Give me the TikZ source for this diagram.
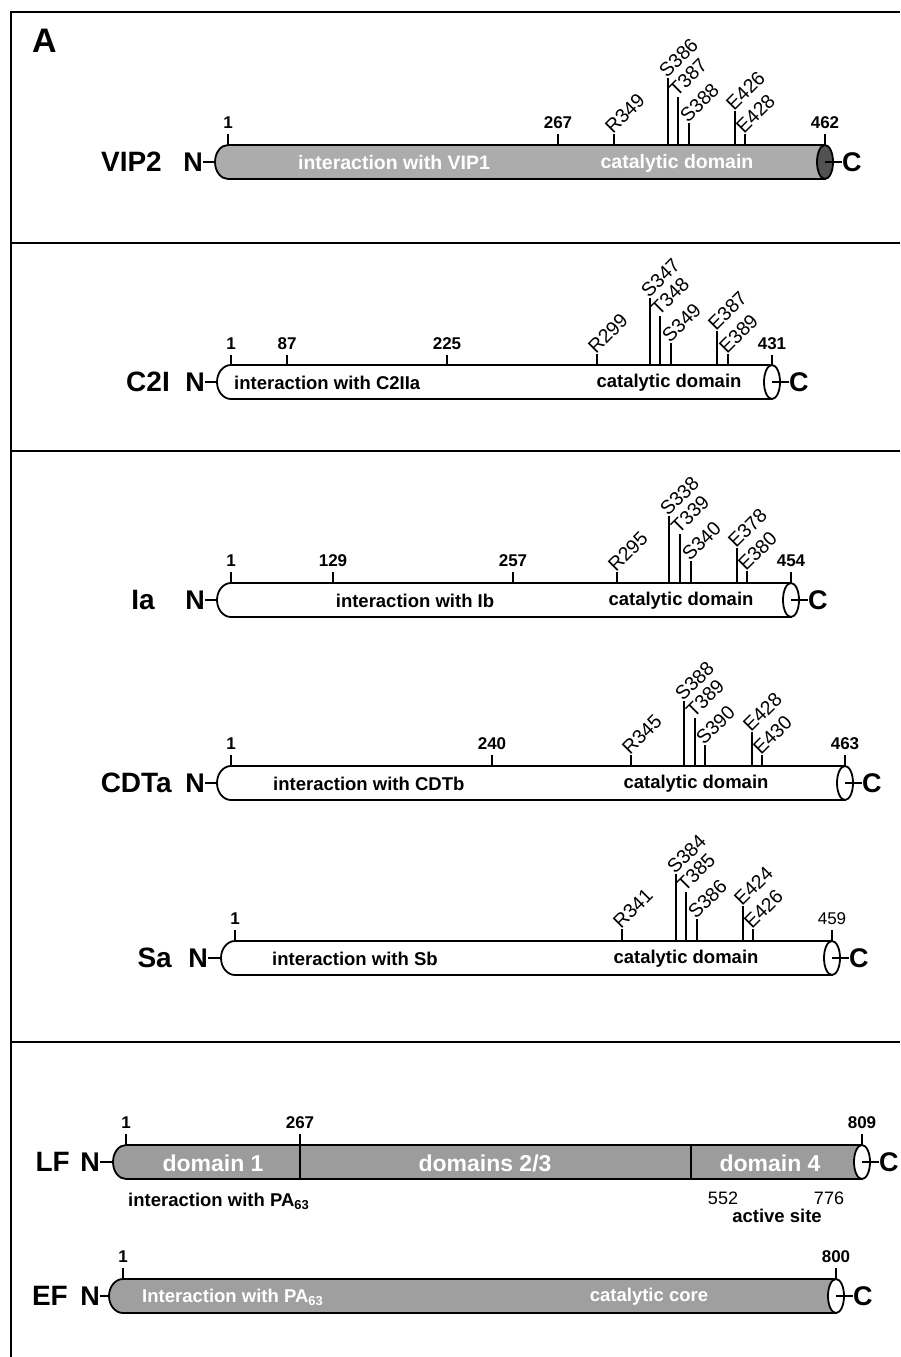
\documentclass[tikz,border=0pt]{standalone}
\usepackage{fontspec}
\setmainfont{Liberation Sans}
\tikzset{
  frame/.style={line width=2.8pt},
  barline/.style={line width=1.8pt},
  tickline/.style={line width=1.5pt},
  protname/.style={font=\fontsize{28}{30}\selectfont\bfseries, inner sep=0pt, anchor=east},
  termlab/.style={font=\fontsize{27}{30}\selectfont\bfseries, inner sep=0pt},
  numlab/.style={font=\fontsize{17}{19}\selectfont\bfseries, inner sep=0pt, anchor=south},
  numreg/.style={font=\fontsize{17}{19}\selectfont, inner sep=0pt, anchor=south},
  reslab/.style={font=\fontsize{19.5}{22}\selectfont, inner sep=0pt, anchor=base west, rotate=45},
  intxt/.style={font=\fontsize{18.5}{20}\selectfont\bfseries, inner sep=0pt},
  wtxt/.style={intxt, text=white},
  bigw/.style={font=\fontsize{23}{25}\selectfont\bfseries, inner sep=0pt, text=white},
}
% #1 name, #2 x0, #3 x1, #4 yc, #5 fill, #6 end fill, #7 cap radius, #8 N east x
\newcommand{\pbar}[8]{%
  \coordinate (#1-bl) at (#2,#4+17);
  \coordinate (#1-tr) at (#3,#4-17);
  \coordinate (#1-br) at (#3,#4+17);
  \coordinate (#1-L) at (#2-#7,#4);
  \coordinate (#1-R) at (#3,#4);
  \draw[barline, fill=#5] (#1-bl) arc[start angle=90, end angle=270, x radius=#7, y radius=17] -- (#1-tr) -- (#1-br) -- cycle;
  \draw[barline, fill=#6] (#1-R) ellipse[x radius=8, y radius=17];
  \node[termlab, anchor=east] (#1-N) at (#8,#4) {N};
  \draw[barline] (#1-N.east) -- (#1-L);
  \node[termlab, anchor=west] (#1-C) at (#3+17,#4) {C};
  \draw[barline] (#1-R) -- (#1-C.west);
}
% #1 name, #2 x, #3 top y, #4 bar top y, #5 text
\newcommand{\resid}[5]{%
  \coordinate (#1-b) at (#2,#4);
  \coordinate (#1-t) at (#2,#3);
  \draw[tickline] (#1-b) -- (#1-t);
  \node[reslab] (#1) at (#2-1,#3+1) {#5};
}
% #1 name, #2 x, #3 top y, #4 bar top y, #5 text, #6 style
\newcommand{\numtick}[6]{%
  \coordinate (#1-b) at (#2,#4);
  \coordinate (#1-t) at (#2,#3);
  \draw[tickline] (#1-b) -- (#1-t);
  \node[#6] (#1) at (#2,#3-5) {#5};
}
\begin{document}
\begin{tikzpicture}[x=1pt, y=-1pt]
\useasboundingbox (0,0) rectangle (900,1357);
% frame
\coordinate (f-tl) at (11,12);
\coordinate (f-tr) at (900,12);
\coordinate (f-bl) at (11,1357);
\draw[frame] (f-tr) -- (f-tl) -- (f-bl);
\coordinate (s1l) at (11,243); \coordinate (s1r) at (900,243);
\coordinate (s2l) at (11,451); \coordinate (s2r) at (900,451);
\coordinate (s3l) at (11,1042); \coordinate (s3r) at (900,1042);
\draw[frame] (s1l) -- (s1r);
\draw[frame] (s2l) -- (s2r);
\draw[frame] (s3l) -- (s3r);
\node[font=\fontsize{34}{36}\selectfont\bfseries, inner sep=0pt, anchor=base west] (A) at (32,52) {A};

% ---------- VIP2 ----------
\pbar{vip}{228}{825}{162}{gray!65}{black!68}{13}{203}
\node[protname] (vip-name) at (162,162) {VIP2};
\numtick{vip-n1}{228}{134}{145}{1}{numlab}
\numtick{vip-n267}{558}{134}{145}{267}{numlab}
\numtick{vip-n462}{825}{134}{145}{462}{numlab}
\resid{vip-r1}{614}{134}{145}{R349}
\resid{vip-r2}{668}{78}{145}{S386}
\resid{vip-r3}{678}{97}{145}{T387}
\resid{vip-r4}{689}{123}{145}{S388}
\resid{vip-r5}{735}{111}{145}{E426}
\resid{vip-r6}{745}{134}{145}{E428}
\node[wtxt, font=\fontsize{19.5}{21}\selectfont\bfseries] (vip-i1) at (394,163) {interaction with VIP1};
\node[wtxt, font=\fontsize{19.5}{21}\selectfont\bfseries] (vip-i2) at (677,163) {catalytic domain};

% ---------- C2I ----------
\pbar{c2}{231}{772}{382}{white}{white}{14}{205}
\node[protname] (c2-name) at (170,382) {C2I};
\numtick{c2-n1}{231}{355}{365}{1}{numlab}
\numtick{c2-n87}{287}{355}{365}{87}{numlab}
\numtick{c2-n225}{447}{355}{365}{225}{numlab}
\numtick{c2-n431}{772}{355}{365}{431}{numlab}
\resid{c2-r1}{597}{354}{365}{R299}
\resid{c2-r2}{650}{298}{365}{S347}
\resid{c2-r3}{660}{316}{365}{T348}
\resid{c2-r4}{671}{343}{365}{S349}
\resid{c2-r5}{717}{331}{365}{E387}
\resid{c2-r6}{728}{354}{365}{E389}
\node[intxt, anchor=west] (c2-i1) at (234,383) {interaction with C2IIa};
\node[intxt] (c2-i2) at (669,383) {catalytic domain};

% ---------- Ia ----------
\pbar{ia}{231}{791}{600}{white}{white}{14}{205}
\node[protname] (ia-name) at (155,600) {Ia};
\numtick{ia-n1}{231}{572}{583}{1}{numlab}
\numtick{ia-n129}{333}{572}{583}{129}{numlab}
\numtick{ia-n257}{513}{572}{583}{257}{numlab}
\numtick{ia-n454}{791}{572}{583}{454}{numlab}
\resid{ia-r1}{617}{572}{583}{R295}
\resid{ia-r2}{669}{516}{583}{S338}
\resid{ia-r3}{680}{534}{583}{T339}
\resid{ia-r4}{691}{561}{583}{S340}
\resid{ia-r5}{737}{548}{583}{E378}
\resid{ia-r6}{747}{571}{583}{E380}
\node[intxt] (ia-i1) at (415,601) {interaction with Ib};
\node[intxt] (ia-i2) at (681,601) {catalytic domain};

% ---------- CDTa ----------
\pbar{cd}{231}{845}{783}{white}{white}{14}{205}
\node[protname] (cd-name) at (172,783) {CDTa};
\numtick{cd-n1}{231}{755}{766}{1}{numlab}
\numtick{cd-n240}{492}{755}{766}{240}{numlab}
\numtick{cd-n463}{845}{755}{766}{463}{numlab}
\resid{cd-r1}{631}{755}{766}{R345}
\resid{cd-r2}{684}{701}{766}{S388}
\resid{cd-r3}{695}{718}{766}{T389}
\resid{cd-r4}{705}{745}{766}{S390}
\resid{cd-r5}{752}{732}{766}{E428}
\resid{cd-r6}{762}{755}{766}{E430}
\node[intxt, anchor=west] (cd-i1) at (273,784) {interaction with CDTb};
\node[intxt] (cd-i2) at (696,784) {catalytic domain};

% ---------- Sa ----------
\pbar{sa}{235}{832}{958}{white}{white}{14}{208}
\node[protname] (sa-name) at (172,958) {Sa};
\numtick{sa-n1}{235}{930}{941}{1}{numlab}
\numtick{sa-n459}{832}{930}{941}{459}{numreg}
\resid{sa-r1}{622}{929}{941}{R341}
\resid{sa-r2}{676}{874}{941}{S384}
\resid{sa-r3}{686}{892}{941}{T385}
\resid{sa-r4}{697}{919}{941}{S386}
\resid{sa-r5}{743}{906}{941}{E424}
\resid{sa-r6}{753}{929}{941}{E426}
\node[intxt, anchor=west] (sa-i1) at (272,959) {interaction with Sb};
\node[intxt] (sa-i2) at (686,959) {catalytic domain};

% ---------- LF ----------
\pbar{lf}{126}{862}{1162}{gray!78}{white}{13}{100}
\node[protname] (lf-name) at (70,1162) {LF};
\numtick{lf-n1}{126}{1134}{1145}{1}{numlab}
\numtick{lf-n267}{300}{1134}{1179}{267}{numlab}
\numtick{lf-n809}{862}{1134}{1145}{809}{numlab}
\coordinate (lf-d2t) at (691,1145);
\coordinate (lf-d2b) at (691,1179);
\draw[barline] (lf-d2t) -- (lf-d2b);
\node[bigw] (lf-i1) at (213,1163) {domain 1};
\node[bigw] (lf-i2) at (485,1163) {domains 2/3};
\node[bigw] (lf-i3) at (770,1163) {domain 4};
\node[intxt, anchor=west] (lf-pa) at (128,1201) {interaction with PA\textsubscript{63}};
\node[font=\fontsize{18}{20}\selectfont, inner sep=0pt] (lf-552) at (723,1198) {552};
\node[font=\fontsize{18}{20}\selectfont, inner sep=0pt] (lf-776) at (829,1198) {776};
\node[intxt] (lf-as) at (777,1216) {active site};

% ---------- EF ----------
\pbar{ef}{123}{836}{1296}{gray!75}{white}{14}{100}
\node[protname] (ef-name) at (68,1296) {EF};
\numtick{ef-n1}{123}{1268}{1279}{1}{numlab}
\numtick{ef-n800}{836}{1268}{1279}{800}{numlab}
\node[wtxt, anchor=west] (ef-i1) at (142,1297) {Interaction with PA\textsubscript{63}};
\node[wtxt] (ef-i2) at (649,1297) {catalytic core};
\end{tikzpicture}
\end{document}
